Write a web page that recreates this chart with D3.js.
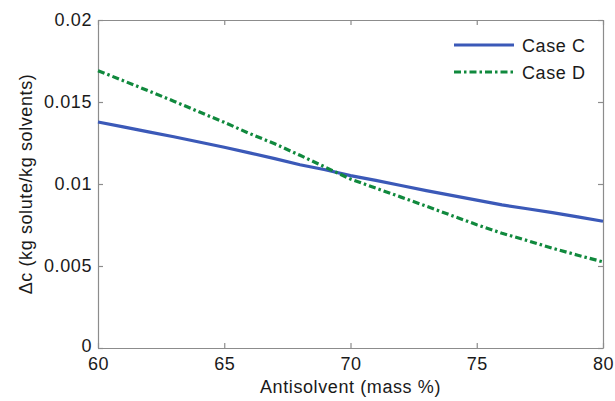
<!DOCTYPE html>
<html>
<head>
<meta charset="utf-8">
<script src="https://cdnjs.cloudflare.com/ajax/libs/d3/7.8.5/d3.min.js"></script>
<style>
	body { margin: 0; background: white; }
	text { font-family: "Liberation Sans", Arial, sans-serif; fill: #1a1a1a; letter-spacing: 0.6px; }
</style>
</head>
<body>
<div id="chart"></div>
<script>
const antisolvent = [60, 61, 62, 63, 64, 65, 66, 67, 68, 69, 70, 71, 72, 73, 74, 75, 76, 77, 78, 79, 80],
	caseC = [0.01378, 0.01348, 0.01318, 0.01288, 0.01256, 0.01224, 0.01190, 0.01155, 0.01117, 0.01087, 0.01051,
		0.01022, 0.00991, 0.00960, 0.00931, 0.00902, 0.00873, 0.00849, 0.00825, 0.00800, 0.00773],
	caseD = [0.01691, 0.01630, 0.01568, 0.01505, 0.01440, 0.01376, 0.01308, 0.01245, 0.01175, 0.01103, 0.01030,
		0.00975, 0.00920, 0.00865, 0.00808, 0.00752, 0.00700, 0.00655, 0.00608, 0.00566, 0.00525],
	seriesNames = ['Case C', 'Case D'],
	xTicks = [60, 65, 70, 75, 80],
	yTicks = [0, 0.005, 0.01, 0.015, 0.02],
	yTickLabels = ['0', '0.005', '0.01', '0.015', '0.02'],
	colors = ['#3b59b8', '#10893d'],
	margin = {top: 20, right: 12, bottom: 53, left: 98},
	width = 615 - margin.left - margin.right,
	height = 401 - margin.top - margin.bottom;

const svg = d3.select('#chart')
	.append('svg')
	.attr('width', width + margin.left + margin.right)
	.attr('height', height + margin.top + margin.bottom)
	.append('g')
		.attr('transform', `translate(${margin.left},${margin.top})`);

// scales
const x = d3.scaleLinear().domain([60, 80]).range([0, width]);
const y = d3.scaleLinear().domain([0, 0.02]).range([height, 0]);

// axes, ticks pointing inward on all four sides
const xAxis = d3.axisBottom(x).tickValues(xTicks).tickSizeInner(-5).tickSizeOuter(0).tickPadding(9);
const yAxis = d3.axisLeft(y).tickValues(yTicks).tickSizeInner(-5).tickSizeOuter(0).tickPadding(6)
	.tickFormat((d, i) => yTickLabels[i]);
const xTop = d3.axisTop(x).tickValues(xTicks).tickSizeInner(-5).tickSizeOuter(0).tickFormat('');
const yRight = d3.axisRight(y).tickValues(yTicks).tickSizeInner(-5).tickSizeOuter(0).tickFormat('');

const styleAxis = g => {
	g.selectAll('path, line').attr('stroke', '#8c8c8c').attr('stroke-width', 1.2);
	g.selectAll('text').style('font-size', '18px').attr('fill', '#1a1a1a');
};

svg.append('g').attr('transform', `translate(0,${height})`).call(xAxis).call(styleAxis);
svg.append('g').call(yAxis).call(styleAxis);
svg.append('g').call(xTop).call(styleAxis);
svg.append('g').attr('transform', `translate(${width},0)`).call(yRight).call(styleAxis);

// the "0" label sits a bit higher so it clears the "60" below it
svg.selectAll('text').filter(function() { return d3.select(this).text() === '0'; }).attr('dy', '0.2em');

// lines
const line = d3.line()
	.x((d, i) => x(antisolvent[i]))
	.y(d => y(d));

svg.append('path')
	.datum(caseC)
	.attr('d', line)
	.attr('fill', 'none')
	.attr('stroke', colors[0])
	.attr('stroke-width', 3.2);

svg.append('path')
	.datum(caseD)
	.attr('d', line)
	.attr('fill', 'none')
	.attr('stroke', colors[1])
	.attr('stroke-width', 3.2)
	.attr('stroke-dasharray', '7,3,2.5,3');

// axis labels
svg.append('text')
	.attr('x', width / 2)
	.attr('y', height + 45)
	.attr('text-anchor', 'middle')
	.style('font-size', '18px')
	.text('Antisolvent (mass %)');

svg.append('text')
	.attr('transform', `translate(-66,${height / 2}) rotate(-90)`)
	.attr('text-anchor', 'middle')
	.style('font-size', '18px')
	.text('Δc (kg solute/kg solvents)');

// legend
const legend = svg.append('g')
	.attr('transform', `translate(${width - 149},25)`);

seriesNames.forEach((name, i) => {
	const row = legend.append('g').attr('transform', `translate(0,${i * 27})`);
	row.append('line')
		.attr('x1', 0).attr('x2', 60)
		.attr('y1', 0).attr('y2', 0)
		.attr('stroke', colors[i])
		.attr('stroke-width', 3.2)
		.attr('stroke-dasharray', i === 1 ? '7,3,2.5,3' : null);
	row.append('text')
		.attr('x', 68)
		.attr('y', 7)
		.style('font-size', '18px')
		.text(name);
});
</script>
</body>
</html>
